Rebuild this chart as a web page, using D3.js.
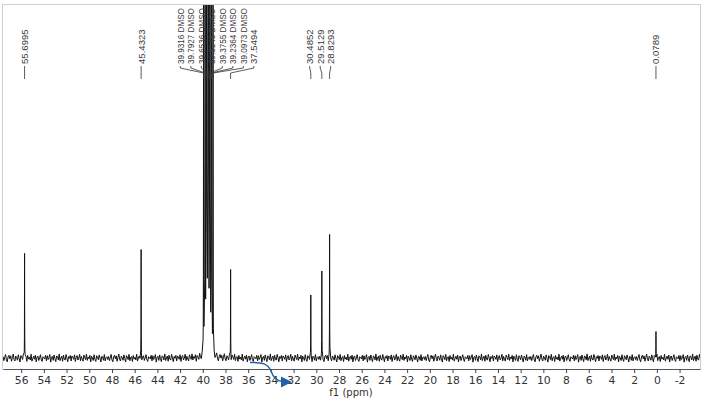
<!DOCTYPE html>
<html><head><meta charset="utf-8">
<script src="https://cdn.jsdelivr.net/npm/d3@7"></script>
<style>body{margin:0;background:#fff}svg{display:block}</style>
</head><body><svg id="c" width="704" height="398"></svg>
<script>
// ---- data ----
const peakPPM = [55.6995, 45.4323, 39.9316, 39.7927, 39.6536, 39.5145, 39.3755, 39.2364, 39.0973, 37.5494, 30.4852, 29.5129, 28.8293, 0.0789];
const peakHeight = [83, 86, 300, 900, 1800, 2100, 1800, 900, 300, 70, 50, 69, 98, 21];
const peakLabels = ["55.6995","45.4323","39.9316 DMSO","39.7927 DMSO","39.6536 DMSO","39.5145 DMSO","39.3755 DMSO","39.2364 DMSO","39.0973 DMSO","37.5494","30.4852","29.5129","28.8293","0.0789"];
const xTicks = [56,54,52,50,48,46,44,42,40,38,36,34,32,30,28,26,24,22,20,18,16,14,12,10,8,6,4,2,0,-2];
const xMinorTicks = d3.range(57, -4, -1);
const xDomain = [57.6, -3.8];
const yDomain = [0, 280];
const axisTitle = "f1 (ppm)";
// baseline noise texture (approximate offsets, intensity units)
const baselineNoise = [1.2,-2.1,0.4,2.8,-1.5,-3.0,0.9,2.2,-0.6,1.7,-2.6,0.3,3.1,-1.1,-2.4,1.5,0.2,-1.8,2.5,-0.4,-3.2,1.9,0.7,-1.3,2.9,-2.2,0.5,1.1,-2.8,2.0,-0.9,0.6,-1.6,3.0,-2.5,-0.2,1.4,-1.0,2.3,-3.1,0.8,1.6,-2.0,0.1,2.6,-1.4,-2.7,1.0,0.3,-0.7,2.1,-2.3,1.8,-1.2,0.4,2.7,-3.3,0.6,1.3,-1.9,2.4,-0.5,-2.9,1.7,0.9,-1.5,3.2,-2.1,0.0,1.5,-2.6,2.2,-0.8,-1.7,2.8,0.2,-3.0,1.1,-0.3,2.0,-2.4,1.6,0.5,-1.1,2.5,-2.8,0.7,1.9,-1.6,-0.1,2.9,-2.2,1.2,-0.9,-2.5,2.3,0.4,-1.3,3.0,-1.9,0.8,-0.6,2.1,-3.1,1.4,0.1,-2.0,2.6,-1.0,-2.7,1.8,0.6,-1.4,2.4,-0.2,-3.2,1.3,0.9,-1.8,2.7,-2.3,0.3,1.0,-1.2];

// ---- layout ----
const plot = {left: 3, right: 700, top: 5, bottom: 369};
const baseY = 358;
const x = d3.scaleLinear().domain(xDomain).range([plot.left, plot.right]);
const y = d3.scaleLinear().domain(yDomain).range([baseY, plot.top]);
const svg = d3.select("#c");

// frame
svg.append("rect").attr("x", 2.5).attr("y", 4.5).attr("width", 698).attr("height", 365)
  .attr("fill", "none").attr("stroke", "#cfcfcf").attr("stroke-width", 1);

// clip
svg.append("clipPath").attr("id", "clip").append("rect")
  .attr("x", plot.left).attr("y", plot.top).attr("width", plot.right - plot.left).attr("height", plot.bottom - plot.top);

// spectrum: baseline noise + Lorentzian lines
const gamma = 0.008;
function lineShape(p) {
  let s = 0;
  for (let k = 0; k < peakPPM.length; k++) {
    const d = p - peakPPM[k];
    s += peakHeight[k] * gamma * gamma / (d * d + gamma * gamma);
  }
  return s;
}
const step = 0.075;
const nN = baselineNoise.length;
const pts = [];
const nGrid = Math.round((xDomain[0] - xDomain[1]) / step);
for (let i = 0; i <= nGrid; i++) {
  const p = xDomain[0] - i * step;
  pts.push({p, n: baselineNoise[i % nN]});
}
const offs = [0, 0.003, 0.008, 0.016, 0.03];
peakPPM.forEach(pp => {
  offs.forEach(o => {
    [pp - o, pp + o].forEach(p => {
      const i = Math.round((xDomain[0] - p) / step);
      pts.push({p, n: o === 0 ? 0 : baselineNoise[((i % nN) + nN) % nN] * 0.5});
    });
  });
});
pts.sort((a, b) => b.p - a.p);
pts.forEach(d => d.v = d.n + lineShape(d.p));

svg.append("path").attr("clip-path", "url(#clip)")
  .attr("d", d3.line().x(d => x(d.p)).y(d => y(d.v))(pts))
  .attr("fill", "none").attr("stroke", "#111").attr("stroke-width", 1).attr("stroke-linejoin", "round");

// axis
const axisG = svg.append("g").attr("transform", `translate(0,${plot.bottom})`);
axisG.call(d3.axisBottom(x).tickValues(xMinorTicks).tickSize(3).tickSizeOuter(0).tickFormat(""));
axisG.call(d3.axisBottom(x).tickValues(xTicks).tickSize(4).tickSizeOuter(0).tickPadding(3).tickFormat(d => String(d)));
axisG.selectAll("path.domain").attr("stroke", "#555");
axisG.selectAll("line").attr("stroke", "#444");
axisG.selectAll("text").attr("font-family", "DejaVu Sans").attr("font-size", 10.8).attr("fill", "#333");

svg.append("text").attr("x", 351).attr("y", 396).attr("text-anchor", "middle")
  .attr("font-family", "DejaVu Sans").attr("font-size", 10).attr("fill", "#333").text(axisTitle);

// peak labels: spread clusters with minimum spacing, centred on the span of their peaks
const minSp = 10.5;
let clusters = peakPPM.map((p, i) => ({idx: [i], want: [x(p)]}));
function place(c) {
  const m = (d3.min(c.want) + d3.max(c.want)) / 2;
  const n = c.idx.length;
  c.start = m - (n - 1) * minSp / 2;
  c.end = c.start + (n - 1) * minSp;
}
clusters.forEach(place);
let merged = true;
while (merged) {
  merged = false;
  for (let k = 0; k < clusters.length - 1; k++) {
    if (clusters[k].end + minSp > clusters[k + 1].start) {
      clusters[k].idx = clusters[k].idx.concat(clusters[k + 1].idx);
      clusters[k].want = clusters[k].want.concat(clusters[k + 1].want);
      clusters.splice(k + 1, 1);
      place(clusters[k]);
      merged = true;
      break;
    }
  }
}
const labelX = [];
clusters.forEach(c => c.idx.forEach((i, j) => labelX[i] = c.start + j * minSp));

const labTop = 64;
const maxLabelLen = 56;
const lg = svg.append("g");
peakPPM.forEach((p, i) => {
  const lx = labelX[i], px = x(p);
  const t = lg.append("text")
    .attr("font-family", "Liberation Sans").attr("font-size", 9.6).attr("fill", "#3a3a3a")
    .text(peakLabels[i]);
  const len = t.node().getComputedTextLength();
  const sx = len > maxLabelLen ? maxLabelLen / len : 1;
  t.attr("transform", `translate(${lx + 3.5},${labTop}) rotate(-90) scale(${sx},1)`);
  lg.append("path")
    .attr("d", `M${lx},${labTop + 2}V${labTop + 4}L${px},${labTop + 9}V${labTop + 15}`)
    .attr("fill", "none").attr("stroke", "#333").attr("stroke-width", 0.8);
});

// blue annotation arrow
svg.append("path").attr("d", "M250,362.5 C262,362 268,364 271,371 C273,377 276,380.5 282,381.5")
  .attr("fill", "none").attr("stroke", "#2460a8").attr("stroke-width", 1.4);
svg.append("path").attr("d", "M281,376.5 L292,382 L281,387.5 Z").attr("fill", "#2460a8");
</script>
</body></html>
